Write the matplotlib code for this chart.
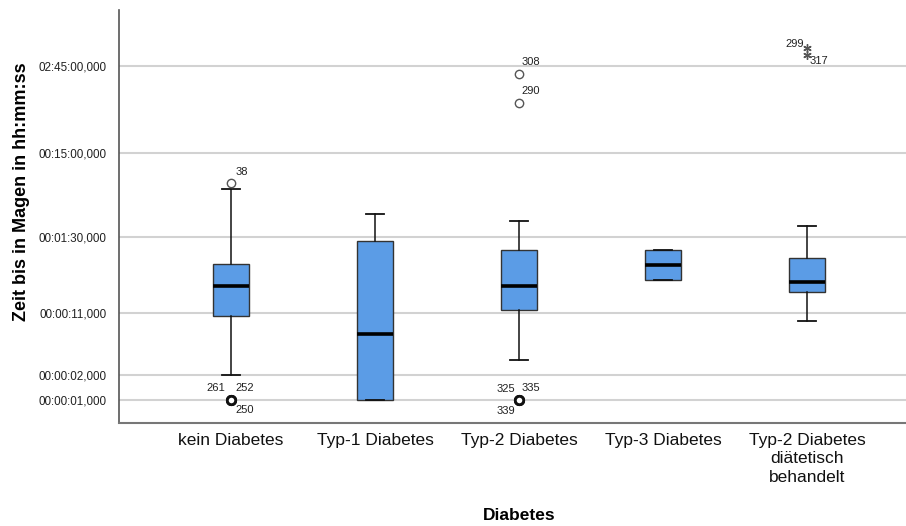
###### IMPORTS ######

import matplotlib
matplotlib.use("Agg")
import matplotlib.pyplot as plt
from matplotlib.ticker import FixedLocator, FuncFormatter, NullLocator

###### DATA ######

categories = ["kein Diabetes", "Typ-1 Diabetes", "Typ-2 Diabetes", "Typ-3 Diabetes",
              "Typ-2 Diabetes\ndiätetisch\nbehandelt"]

# box statistics in seconds
whislo = [2.0, 1.0, 3.0, 27.0, 8.9]
q1 = [10.1, 1.0, 11.9, 27.0, 19.7]
med = [23.1, 6.2, 23.1, 41.2, 26.0]
q3 = [42.4, 79.1, 62.3, 62.8, 49.5]
whishi = [334.0, 166.0, 140.0, 62.8, 120.0]

# outliers (circles) and extremes (asterisks) with case numbers
outlier_values = [[391.0, 1.0, 1.0, 1.0], [], [7870.0, 3540.0, 1.0, 1.0, 1.0], [], []]
outlier_ids = [["38", "261", "252", "250"], [], ["308", "290", "325", "335", "339"], [], []]
extreme_values = [[], [], [], [], [16200.0, 13400.0]]
extreme_ids = [[], [], [], [], ["299", "317"]]

y_ticks = [1, 2, 11, 90, 900, 9900]

###### STYLE ######

plt.rcParams['font.family'] = ['Liberation Sans', 'DejaVu Sans']

box_color = '#5b9ce6'
grid_color = '#d2d2d2'

# label offsets in points (dx, dy, ha)
outlier_offsets = [[(3, 8, 'left'), (-4, 9, 'right'), (3, 9, 'left'), (3, -7, 'left')],
                   [],
                   [(2, 9, 'left'), (2, 9, 'left'), (-3, 8, 'right'), (2, 9, 'left'), (-3, -8, 'right')],
                   [], []]
extreme_offsets = [[], [], [], [], [(-2, 3, 'right'), (2, -4, 'left')]]


def fmt_time(v, pos):
    total = int(round(v))
    h = total // 3600
    m = (total % 3600) // 60
    s = total % 60
    return f"{h:02d}:{m:02d}:{s:02d},000"


###### PLOT ######

fig = plt.figure(figsize=(9.06, 5.26), dpi=100)
ax = fig.add_axes([119 / 906, 1 - 423 / 526, 1 - 119 / 906, 413 / 526])

stats = []
for i in range(len(categories)):
    stats.append({
        'whislo': whislo[i], 'q1': q1[i], 'med': med[i], 'q3': q3[i], 'whishi': whishi[i],
        'fliers': [],
    })

positions = list(range(len(categories)))
ax.bxp(stats, positions=positions, widths=0.25, patch_artist=True, showfliers=False,
       boxprops=dict(facecolor=box_color, edgecolor='#333333', linewidth=1.0),
       medianprops=dict(color='black', linewidth=2.6),
       whiskerprops=dict(color='#111111', linewidth=1.1),
       capprops=dict(color='#111111', linewidth=1.3),
       capwidths=0.125, zorder=3)

for i, pos in enumerate(positions):
    # outliers
    for j, (val, lab) in enumerate(zip(outlier_values[i], outlier_ids[i])):
        repeated = outlier_values[i].count(val) > 1
        ax.plot(pos, val, marker='o', markersize=6, markerfacecolor='white',
                markeredgecolor='#111111' if repeated else '#555555',
                markeredgewidth=2.0 if repeated else 1.0, linestyle='none', zorder=4)
        dx, dy, ha = outlier_offsets[i][j]
        ax.annotate(lab, (pos, val), xytext=(dx, dy), textcoords='offset points',
                    ha=ha, va='center', fontsize=8, color='#222222')
    # extremes
    for j, (val, lab) in enumerate(zip(extreme_values[i], extreme_ids[i])):
        ax.plot(pos, val, marker=(6, 2, 0), markersize=6, markeredgewidth=1.0,
                color='#555555', linestyle='none', zorder=4)
        dx, dy, ha = extreme_offsets[i][j]
        ax.annotate(lab, (pos, val), xytext=(dx, dy), textcoords='offset points',
                    ha=ha, va='center', fontsize=8, color='#222222')

# axes
ax.set_yscale('log')
ax.set_ylim(0.531, 46300)
ax.set_xlim(-0.778, 4.6875)
ax.yaxis.set_major_locator(FixedLocator(y_ticks))
ax.yaxis.set_minor_locator(NullLocator())
ax.yaxis.set_major_formatter(FuncFormatter(fmt_time))
ax.grid(axis='y', color=grid_color, linewidth=1.5, zorder=0)
ax.set_axisbelow(True)

ax.set_xticks(positions)
ax.set_xticklabels(categories, fontsize=12.5, color='#111111', linespacing=1.3)
ax.tick_params(axis='x', length=0, pad=7)
ax.tick_params(axis='y', length=0, pad=9, labelsize=8.4, labelcolor='#222222')

for side in ['top', 'right']:
    ax.spines[side].set_visible(False)
ax.spines['left'].set_color('#555555')
ax.spines['bottom'].set_color('#777777')
ax.spines['left'].set_linewidth(1.2)
ax.spines['bottom'].set_linewidth(1.5)

ax.set_ylabel("Zeit bis in Magen in hh:mm:ss", fontsize=13, fontweight='bold')
ax.yaxis.set_label_coords(-0.113, 0.559)
ax.set_xlabel("Diabetes", fontsize=12.5, fontweight='bold')
ax.xaxis.set_label_coords(0.508, -0.205)

fig.savefig("out.png", dpi=100)
